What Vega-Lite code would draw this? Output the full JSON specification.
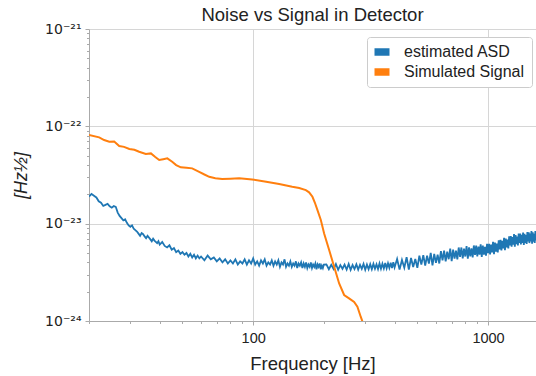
{
"$schema": "https://vega.github.io/schema/vega-lite/v6.json",
"width": 447,
"height": 292,
"autosize": {"type": "none"},
"padding": {"left": 89, "top": 29, "right": 0, "bottom": 55},
"background": "white",
"config": {"view": {"stroke": null}, "font": "Liberation Sans"},
"title": {"text": "Noise vs Signal in Detector", "fontSize": 18.5, "font": "Liberation Sans", "fontWeight": "normal", "color": "#222", "anchor": "middle", "offset": -2},
"datasets": {
"asd": [
{"f":20,"v":19.0e-24},{"f":20.5,"v":20.2e-24},{"f":21,"v":19.4e-24},{"f":21.5,"v":18.6e-24},{"f":22,"v":17.0e-24},{"f":22.5,"v":16.4e-24},{"f":23,"v":15.2e-24},{"f":23.5,"v":15.6e-24},{"f":24,"v":16.0e-24},{"f":24.5,"v":15.1e-24},{"f":25,"v":14.6e-24},{"f":25.5,"v":15.2e-24},{"f":26,"v":14.9e-24},{"f":26.5,"v":13.0e-24},{"f":27,"v":12.0e-24},{"f":27.5,"v":11.4e-24},{"f":28,"v":10.8e-24},{"f":28.5,"v":11.1e-24},{"f":29,"v":10.2e-24},{"f":29.5,"v":9.6e-24},{"f":30,"v":9.3e-24},{"f":30.5,"v":9.6e-24},{"f":31,"v":8.9e-24},{"f":31.5,"v":8.6e-24},{"f":32,"v":8.3e-24},{"f":32.5,"v":7.9e-24},{"f":33,"v":7.5e-24},{"f":33.5,"v":8.0e-24},{"f":34,"v":7.8e-24},{"f":34.5,"v":7.4e-24},{"f":35,"v":7.1e-24},{"f":35.5,"v":7.5e-24},{"f":36,"v":7.2e-24},{"f":36.5,"v":6.9e-24},{"f":37,"v":6.6e-24},{"f":37.5,"v":7.0e-24},{"f":38,"v":6.7e-24},{"f":38.5,"v":6.5e-24},{"f":39,"v":6.3e-24},{"f":39.5,"v":6.6e-24},{"f":40,"v":6.1e-24},
{"f":41,"v":6.5e-24},{"f":42,"v":5.9e-24},{"f":43,"v":5.7e-24},{"f":44,"v":6.0e-24},{"f":45,"v":5.4e-24},{"f":46,"v":5.6e-24},{"f":47,"v":5.1e-24},{"f":48,"v":5.3e-24},{"f":49,"v":4.9e-24},{"f":50,"v":5.1e-24},{"f":51,"v":4.8e-24},{"f":52,"v":5.0e-24},{"f":53,"v":4.6e-24},{"f":54,"v":4.9e-24},{"f":55,"v":4.5e-24},{"f":56,"v":4.8e-24},{"f":57,"v":4.4e-24},{"f":58,"v":4.7e-24},{"f":59,"v":4.4e-24},{"f":60,"v":4.6e-24},
{"f":62,"v":4.2e-24},{"f":64,"v":4.7e-24},{"f":66,"v":4.3e-24},{"f":68,"v":4.5e-24},{"f":70,"v":4.1e-24},{"f":72,"v":4.4e-24},{"f":74,"v":4.0e-24},{"f":76,"v":4.3e-24},{"f":78,"v":3.9e-24},{"f":80,"v":4.2e-24},{"f":82,"v":3.9e-24},{"f":84,"v":4.3e-24},{"f":86,"v":3.8e-24},{"f":88,"v":4.1e-24},{"f":90,"v":3.9e-24},{"f":92,"v":4.3e-24},{"f":94,"v":3.8e-24},{"f":96,"v":4.2e-24},{"f":98,"v":3.9e-24},{"f":100,"v":4.4e-24},{"f":102,"v":3.8e-24},{"f":104,"v":4.1e-24},{"f":106,"v":3.7e-24},{"f":108,"v":4.2e-24},{"f":110,"v":3.9e-24},{"f":112,"v":4.3e-24},{"f":114,"v":3.7e-24},{"f":116,"v":4.0e-24},{"f":118,"v":3.8e-24},{"f":120,"v":4.2e-24},{"f":122,"v":3.7e-24},{"f":124,"v":4.1e-24},{"f":126,"v":3.8e-24},{"f":128,"v":4.2e-24},{"f":130,"v":3.6e-24},{"f":132,"v":4.0e-24},{"f":134,"v":3.8e-24},{"f":136,"v":4.3e-24},{"f":138,"v":3.6e-24},{"f":140,"v":3.9e-24},{"f":142,"v":3.7e-24},{"f":144,"v":4.1e-24},{"f":146,"v":3.6e-24},{"f":148,"v":3.9e-24},{"f":150,"v":3.7e-24},{"f":152,"v":4.1e-24},{"f":154,"v":3.5e-24},{"f":156,"v":3.9e-24},{"f":158,"v":3.7e-24},{"f":160,"v":4.0e-24},{"f":162,"v":3.5e-24},{"f":164,"v":3.9e-24},{"f":166,"v":3.6e-24},{"f":168,"v":4.0e-24},{"f":170,"v":3.5e-24},{"f":172,"v":3.8e-24},{"f":174,"v":3.6e-24},{"f":176,"v":4.0e-24},{"f":178,"v":3.5e-24},{"f":180,"v":3.8e-24},{"f":182,"v":3.6e-24},{"f":184,"v":3.9e-24},{"f":186,"v":3.4e-24},{"f":188,"v":3.8e-24},{"f":190,"v":3.6e-24},{"f":192,"v":3.9e-24},{"f":194,"v":3.4e-24},{"f":196,"v":3.7e-24},{"f":198,"v":3.5e-24},{"f":200,"v":3.8e-24},
{"f":205,"v":3.82e-24},{"f":210,"v":3.40e-24},{"f":215,"v":3.78e-24},{"f":220,"v":3.42e-24},{"f":225,"v":3.85e-24},{"f":230,"v":3.36e-24},{"f":235,"v":3.75e-24},{"f":240,"v":3.44e-24},{"f":245,"v":3.80e-24},{"f":250,"v":3.38e-24},{"f":255,"v":3.86e-24},{"f":260,"v":3.35e-24},{"f":265,"v":3.76e-24},{"f":270,"v":3.42e-24},{"f":275,"v":3.82e-24},{"f":280,"v":3.37e-24},{"f":285,"v":3.78e-24},{"f":290,"v":3.43e-24},{"f":295,"v":3.85e-24},{"f":300,"v":3.36e-24},{"f":305,"v":3.80e-24},{"f":310,"v":3.40e-24},{"f":315,"v":3.84e-24},{"f":320,"v":3.41e-24},{"f":325,"v":3.86e-24},{"f":330,"v":3.44e-24},{"f":335,"v":3.82e-24},{"f":340,"v":3.42e-24},{"f":345,"v":3.90e-24},{"f":350,"v":3.45e-24},{"f":355,"v":3.88e-24},{"f":360,"v":3.47e-24},{"f":365,"v":3.95e-24},{"f":370,"v":3.48e-24},{"f":375,"v":3.92e-24},{"f":380,"v":3.52e-24},{"f":385,"v":3.98e-24},{"f":390,"v":3.50e-24},{"f":395,"v":4.02e-24},{"f":400,"v":3.55e-24},
{"f":410,"v":4.33e-24},{"f":420,"v":3.37e-24},{"f":430,"v":4.24e-24},{"f":440,"v":3.53e-24},{"f":450,"v":4.52e-24},{"f":460,"v":3.38e-24},{"f":470,"v":4.44e-24},{"f":480,"v":3.59e-24},{"f":490,"v":4.34e-24},{"f":500,"v":3.52e-24},{"f":510,"v":4.70e-24},{"f":520,"v":3.80e-24},{"f":530,"v":4.75e-24},{"f":540,"v":3.70e-24},{"f":550,"v":4.68e-24},{"f":560,"v":3.89e-24},{"f":570,"v":5.00e-24},{"f":580,"v":3.73e-24},{"f":590,"v":4.89e-24},{"f":600,"v":3.96e-24},
{"f":610,"v":4.80e-24},{"f":620,"v":3.90e-24},{"f":630,"v":5.21e-24},{"f":640,"v":4.20e-24},{"f":650,"v":5.27e-24},{"f":660,"v":4.10e-24},{"f":670,"v":5.17e-24},{"f":680,"v":4.31e-24},{"f":690,"v":5.53e-24},{"f":700,"v":4.13e-24},{"f":710,"v":5.41e-24},{"f":720,"v":4.37e-24},{"f":730,"v":5.29e-24},{"f":740,"v":4.29e-24},{"f":750,"v":5.69e-24},{"f":760,"v":4.57e-24},{"f":770,"v":5.69e-24},{"f":780,"v":4.41e-24},{"f":790,"v":5.53e-24},{"f":800,"v":4.60e-24},
{"f":810,"v":5.88e-24},{"f":820,"v":4.38e-24},{"f":830,"v":5.72e-24},{"f":840,"v":4.62e-24},{"f":850,"v":5.56e-24},{"f":860,"v":4.50e-24},{"f":870,"v":5.97e-24},{"f":880,"v":4.79e-24},{"f":890,"v":5.96e-24},{"f":900,"v":4.62e-24},{"f":910,"v":5.80e-24},{"f":920,"v":4.80e-24},{"f":930,"v":6.14e-24},{"f":940,"v":4.56e-24},{"f":950,"v":5.96e-24},{"f":960,"v":4.81e-24},{"f":970,"v":5.79e-24},{"f":980,"v":4.68e-24},{"f":990,"v":6.21e-24},{"f":1000,"v":4.99e-24},
{"f":1010,"v":6.22e-24},{"f":1020,"v":4.84e-24},{"f":1030,"v":6.09e-24},{"f":1040,"v":5.08e-24},{"f":1050,"v":6.52e-24},{"f":1060,"v":4.87e-24},{"f":1070,"v":6.38e-24},{"f":1080,"v":5.17e-24},{"f":1090,"v":6.24e-24},{"f":1100,"v":5.06e-24},{"f":1110,"v":6.75e-24},{"f":1120,"v":5.45e-24},{"f":1130,"v":6.81e-24},{"f":1140,"v":5.30e-24},{"f":1150,"v":6.68e-24},{"f":1160,"v":5.57e-24},{"f":1170,"v":7.16e-24},{"f":1180,"v":5.35e-24},{"f":1190,"v":7.02e-24},{"f":1200,"v":5.69e-24},
{"f":1210,"v":6.87e-24},{"f":1220,"v":5.58e-24},{"f":1230,"v":7.42e-24},{"f":1240,"v":5.98e-24},{"f":1250,"v":7.46e-24},{"f":1260,"v":5.80e-24},{"f":1270,"v":7.29e-24},{"f":1280,"v":6.08e-24},{"f":1290,"v":7.80e-24},{"f":1300,"v":5.81e-24},{"f":1310,"v":7.62e-24},{"f":1320,"v":6.14e-24},{"f":1330,"v":7.39e-24},{"f":1340,"v":5.97e-24},{"f":1350,"v":7.91e-24},{"f":1360,"v":6.35e-24},{"f":1370,"v":7.89e-24},{"f":1380,"v":6.11e-24},{"f":1390,"v":7.66e-24},{"f":1400,"v":6.35e-24},
{"f":1410,"v":8.12e-24},{"f":1420,"v":6.04e-24},{"f":1430,"v":7.88e-24},{"f":1440,"v":6.35e-24},{"f":1450,"v":7.65e-24},{"f":1460,"v":6.18e-24},{"f":1470,"v":8.19e-24},{"f":1480,"v":6.57e-24},{"f":1490,"v":8.16e-24},{"f":1500,"v":6.32e-24},{"f":1510,"v":7.92e-24},{"f":1520,"v":6.56e-24},{"f":1530,"v":8.39e-24},{"f":1540,"v":6.23e-24},{"f":1550,"v":8.13e-24},{"f":1560,"v":6.54e-24},{"f":1570,"v":7.86e-24},{"f":1580,"v":6.34e-24},{"f":1590,"v":8.40e-24},{"f":1600,"v":6.73e-24}
],
"sig": [
{"f":20,"v":8.15e-23},{"f":22.1,"v":7.71e-23},{"f":23.2,"v":7.23e-23},{"f":24.4,"v":6.95e-23},{"f":25.6,"v":6.98e-23},{"f":26.9,"v":6.28e-23},{"f":28.2,"v":6.15e-23},{"f":29.7,"v":5.85e-23},{"f":31.2,"v":5.75e-23},{"f":32.7,"v":5.48e-23},{"f":34.9,"v":5.19e-23},{"f":36.7,"v":5.27e-23},{"f":38.3,"v":4.84e-23},{"f":39.8,"v":4.51e-23},{"f":41.4,"v":4.60e-23},{"f":43.1,"v":4.69e-23},{"f":45.2,"v":4.33e-23},{"f":47,"v":4.0e-23},{"f":49.2,"v":3.79e-23},{"f":52,"v":3.75e-23},{"f":55,"v":3.70e-23},{"f":58.9,"v":3.41e-23},{"f":62,"v":3.2e-23},{"f":65,"v":3.03e-23},{"f":69,"v":2.93e-23},{"f":73.8,"v":2.87e-23},{"f":80,"v":2.90e-23},{"f":87.2,"v":2.92e-23},{"f":99,"v":2.85e-23},{"f":113.6,"v":2.70e-23},{"f":129,"v":2.55e-23},{"f":146.6,"v":2.39e-23},{"f":157,"v":2.32e-23},{"f":167.6,"v":2.21e-23},{"f":173,"v":2.10e-23},{"f":178.8,"v":1.89e-23},{"f":183,"v":1.65e-23},{"f":187.8,"v":1.38e-23},{"f":194.1,"v":1.09e-23},{"f":200.5,"v":7.94e-24},{"f":210.6,"v":5.36e-24},{"f":221.2,"v":3.61e-24},{"f":232.3,"v":2.43e-24},{"f":243.9,"v":1.85e-24},{"f":256,"v":1.71e-24},{"f":269,"v":1.57e-24},{"f":277.8,"v":1.40e-24},{"f":287.2,"v":1.10e-24},{"f":296.7,"v":8.9e-25},{"f":305,"v":6e-25}
]
},
"layer": [
{
"data": {"name": "asd"},
"mark": {"type": "line", "strokeWidth": 1.8, "clip": true},
"encoding": {
"x": {"field": "f", "type": "quantitative", "scale": {"type": "log", "domain": [20, 1600], "nice": false},
"axis": {"orient": "bottom", "values": [100, 1000], "format": "d", "grid": true, "gridColor": "#d6d6d6", "gridWidth": 1, "domainColor": "#aaaaaa", "tickColor": "#aaaaaa", "tickSize": 4, "labelFont": "Liberation Sans", "labelFontSize": 14.5, "labelColor": "#222", "labelPadding": 6, "title": "Frequency [Hz]", "titleFont": "Liberation Sans", "titleFontSize": 18.5, "titleFontWeight": "normal", "titleColor": "#222", "titlePadding": 10}},
"y": {"field": "v", "type": "quantitative", "scale": {"type": "log", "domain": [1e-24, 1e-21], "nice": false},
"axis": {"orient": "left", "values": [1e-24, 1e-23, 1e-22, 1e-21], "labelExpr": "datum.value > 5e-22 ? '10⁻²¹' : datum.value > 5e-23 ? '10⁻²²' : datum.value > 5e-24 ? '10⁻²³' : '10⁻²⁴'", "grid": true, "gridColor": "#d6d6d6", "gridWidth": 1, "domainColor": "#aaaaaa", "tickColor": "#aaaaaa", "tickSize": 4, "labelFont": "DejaVu Sans", "labelFontSize": 14, "labelColor": "#222", "labelPadding": 4, "title": "[Hz½]", "titleFont": "Liberation Sans", "titleFontSize": 18, "titleFontWeight": "normal", "titleFontStyle": "italic", "titleColor": "#222", "titleX": -68, "titleY": 146, "titleBaseline": "middle", "titleAngle": 270}},
"color": {"datum": "estimated ASD", "scale": {"domain": ["estimated ASD", "Simulated Signal"], "range": ["#1f77b4", "#ff7f0e"]},
"legend": {"orient": "none", "legendX": 278, "legendY": 8, "title": null, "symbolType": "M-1,-0.5H1V0.5H-1Z", "symbolSize": 225, "symbolStrokeWidth": 0, "labelFont": "Liberation Sans", "labelFontSize": 16, "labelColor": "#222", "labelOffset": 14, "padding": 7, "strokeColor": "#cccccc", "fillColor": "white", "cornerRadius": 3, "rowPadding": 4,
"encode": {"symbols": {"update": {"fill": {"scale": "color", "field": "value"}, "fillOpacity": {"value": 1}}}}}}
}
},
{
"data": {"name": "sig"},
"mark": {"type": "line", "strokeWidth": 2, "clip": true},
"encoding": {
"x": {"field": "f", "type": "quantitative", "scale": {"type": "log", "domain": [20, 1600], "nice": false},
"axis": {"orient": "bottom", "values": [20, 30, 40, 50, 60, 70, 80, 90, 200, 300, 400, 500, 600, 700, 800, 900], "labels": false, "grid": false, "domain": false, "tickColor": "#aaaaaa", "tickSize": 2.5, "title": null}},
"y": {"field": "v", "type": "quantitative", "scale": {"type": "log", "domain": [1e-24, 1e-21], "nice": false},
"axis": {"orient": "left", "values": [2e-24, 3e-24, 4e-24, 5e-24, 6e-24, 7e-24, 8e-24, 9e-24, 2e-23, 3e-23, 4e-23, 5e-23, 6e-23, 7e-23, 8e-23, 9e-23, 2e-22, 3e-22, 4e-22, 5e-22, 6e-22, 7e-22, 8e-22, 9e-22], "labels": false, "grid": false, "domain": false, "tickColor": "#aaaaaa", "tickSize": 2.5, "title": null}},
"color": {"datum": "Simulated Signal"}
}
}
],
"resolve": {"axis": {"x": "independent", "y": "independent"}}
}
